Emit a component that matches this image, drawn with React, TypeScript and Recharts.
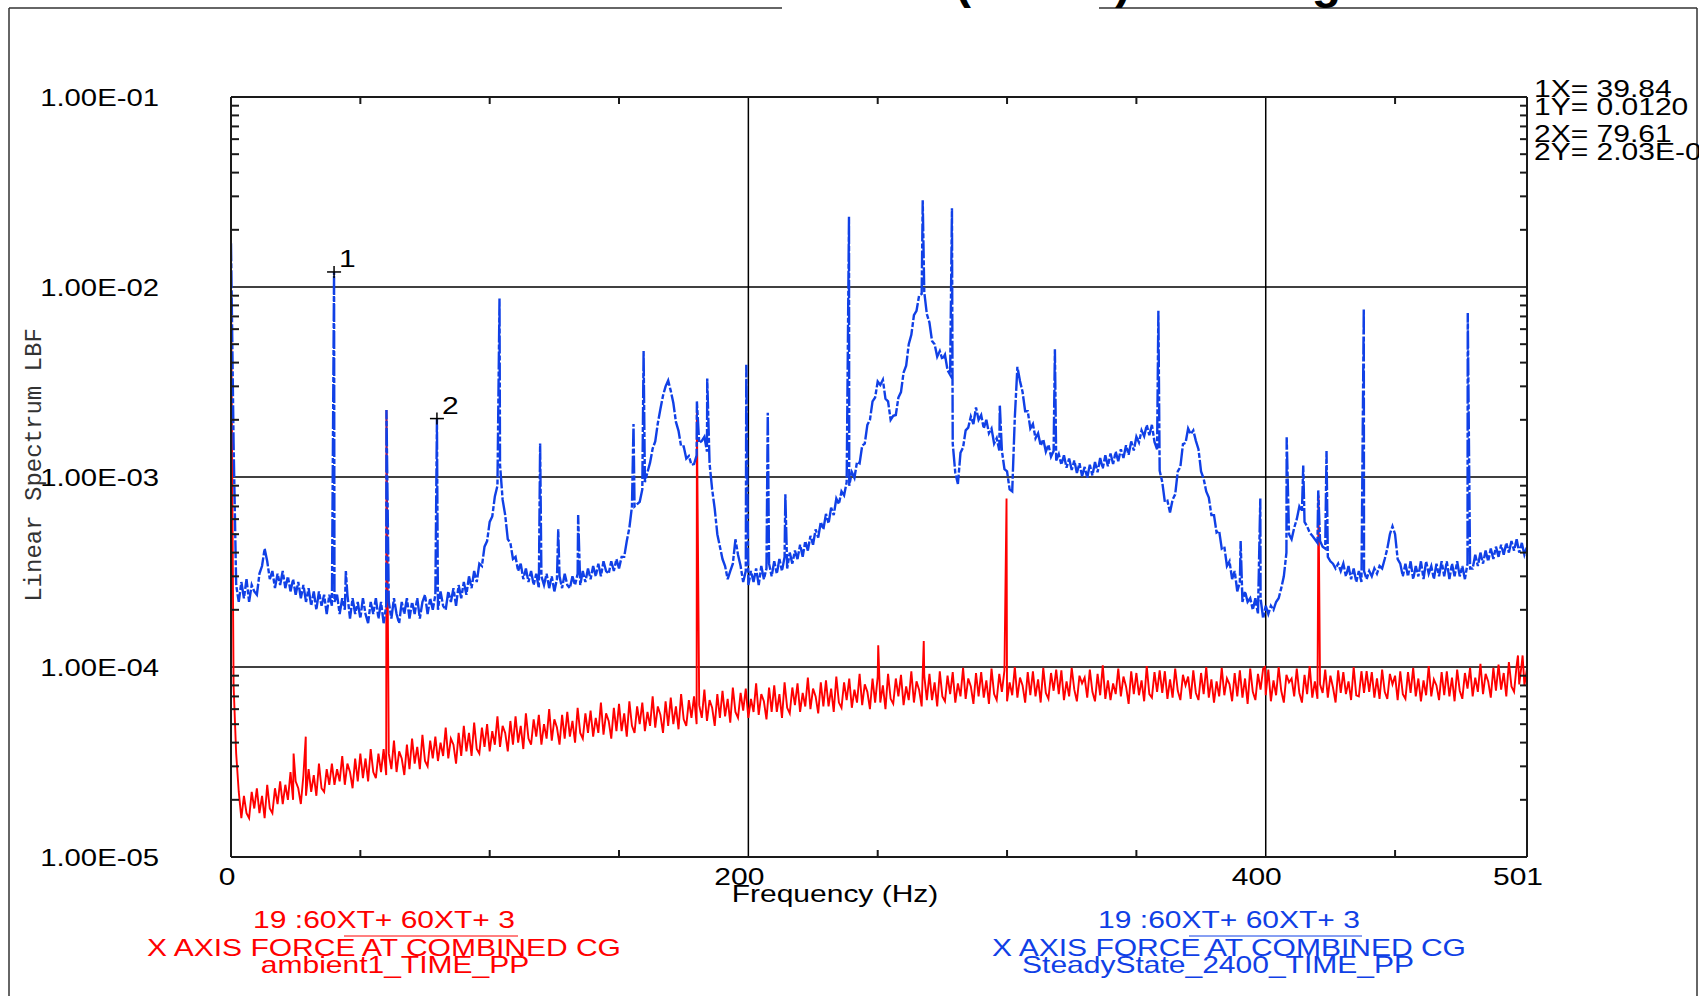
import React from "react";
import { LineChart, Line, XAxis, YAxis, ReferenceLine } from "recharts";

// spectrum bins are 1 Hz apart starting at 0 Hz; values are in 1e-5 LBF
const binHz = 1;
const unit = 1e-5;

// SteadyState_2400_TIME_PP (blue)
const steadyState = [
  1700, 150, 27, 22, 28, 23, 29, 22, 27, 25,
  24, 31, 34, 42, 36, 29, 32, 26, 31, 27,
  32, 26, 30, 25, 29, 24, 28, 23, 27, 22,
  26, 21, 25, 20, 25, 21, 24, 19, 24, 21,
  22, 24, 19, 23, 20, 24, 18, 23, 19, 22,
  18, 23, 19, 17, 22, 19, 23, 18, 22, 17,
  21, 22, 18, 23, 19, 17, 22, 19, 23, 18,
  22, 19, 23, 18, 22, 24, 19, 23, 20, 24,
  20, 25, 21, 20, 25, 22, 26, 21, 27, 23,
  28, 24, 30, 26, 32, 28, 35, 34, 43, 46,
  58, 62, 79, 90, 116, 76, 63, 47, 45, 37,
  38, 32, 35, 29, 33, 28, 32, 27, 31, 26,
  30, 27, 31, 26, 30, 25, 29, 30, 26, 31,
  27, 26, 30, 27, 31, 27, 32, 28, 33, 29,
  34, 30, 35, 30, 36, 32, 31, 36, 32, 37,
  33, 38, 38, 46, 54, 70, 70, 72, 74, 86,
  94, 106, 119, 141, 154, 192, 228, 268, 300, 322,
  284, 245, 195, 175, 145, 145, 125, 129, 116, 117,
  130, 151, 155, 163, 136, 118, 86, 68, 50, 43,
  37, 34, 29, 32, 35, 47, 39, 34, 28, 32,
  27, 32, 28, 33, 27, 34, 29, 33, 35, 30,
  36, 31, 37, 32, 38, 33, 40, 35, 41, 37,
  44, 38, 46, 41, 49, 44, 53, 48, 58, 53,
  64, 57, 69, 63, 77, 72, 84, 80, 94, 90,
  106, 99, 120, 118, 146, 150, 188, 200, 250, 262,
  318, 305, 325, 258, 250, 200, 210, 212, 262, 280,
  355, 385, 500, 560, 710, 750, 900, 920, 940, 720,
  650, 520, 500, 430, 460, 415, 440, 365, 345, 150,
  105, 92, 134, 143, 176, 182, 208, 190, 232, 200,
  212, 180, 200, 170, 180, 150, 160, 138, 138, 110,
  107, 86, 84, 205, 380, 320, 280, 222, 222, 180,
  190, 160, 170, 146, 158, 136, 148, 128, 137, 122,
  132, 116, 130, 112, 125, 109, 122, 105, 118, 101,
  113, 99, 116, 102, 120, 106, 126, 111, 130, 114,
  133, 117, 136, 121, 140, 126, 147, 131, 154, 138,
  163, 152, 176, 164, 188, 166, 188, 153, 140, 108,
  94, 74, 75, 65, 76, 81, 107, 113, 149, 151,
  180, 168, 176, 155, 140, 107, 98, 84, 78, 63,
  63, 51, 52, 42, 43, 34, 36, 29, 32, 25,
  28, 22, 25, 22, 23, 20, 23, 19, 23, 18,
  21, 19, 21, 20, 22, 23, 26, 30, 40, 50,
  47, 54, 60, 70, 66, 58, 55, 51, 49, 47,
  45, 46, 43, 42, 38, 36, 35, 33, 35, 32,
  35, 30, 34, 29, 33, 28, 32, 28, 32, 29,
  32, 30, 33, 31, 34, 33, 37, 42, 50, 55,
  50, 37, 35, 30, 35, 30, 36, 29, 34, 30,
  36, 29, 36, 31, 34, 29, 35, 30, 36, 30,
  36, 29, 35, 30, 36, 30, 34, 29, 35, 33,
  33, 39, 34, 40, 35, 41, 36, 42, 37, 43,
  38, 44, 39, 45, 40, 46, 41, 47, 40, 45,
  39, 43,
];

// narrow tones of the blue trace: [Hz, peak]
const steadySpikes = [
  [39.84, 1200], [44.4, 32], [60.1, 225], [79.61, 203], [103.8, 870],
  [119.5, 150], [126.5, 53], [134.2, 63], [155.6, 190], [159.5, 460],
  [180.1, 250], [184.1, 330], [199.2, 390], [207.5, 218], [214.3, 81],
  [238.9, 2340], [267.4, 2860], [278.7, 2600], [297.2, 240], [318.5, 470],
  [358.5, 750], [390.3, 46], [397.9, 77], [408.1, 162], [414.5, 115],
  [420.3, 85], [423.5, 137], [437.9, 770], [478.1, 730],
];

// ambient1_TIME_PP (red)
const ambient = [
  1000, 8, 3.5, 2.2, 1.6, 2.1, 1.7, 1.6, 2.2, 1.8,
  2.3, 1.7, 2.1, 1.6, 2.4, 1.8, 1.7, 2.3, 1.9, 2.5,
  1.9, 2.4, 2.0, 2.8, 2.0, 2.5, 2.3, 1.9, 2.7, 2.1,
  2.9, 2.2, 2.7, 2.1, 3.1, 2.3, 2.2, 2.9, 2.4, 3.1,
  2.4, 2.9, 2.5, 3.4, 2.4, 3.1, 2.8, 2.3, 3.3, 2.5,
  3.5, 2.6, 3.3, 2.5, 3.7, 2.8, 2.6, 3.5, 2.8, 3.7,
  2.7, 3.5, 2.9, 4.1, 2.8, 3.6, 3.3, 2.7, 3.9, 2.9,
  4.2, 3.1, 3.8, 2.9, 4.4, 3.2, 3.0, 4.1, 3.3, 4.3,
  3.2, 4.0, 3.4, 4.8, 3.3, 4.2, 3.9, 3.1, 4.5, 3.4,
  4.9, 3.6, 4.5, 3.4, 5.1, 3.7, 3.5, 4.8, 3.8, 5.0,
  3.6, 4.6, 3.9, 5.5, 3.8, 4.9, 4.5, 3.6, 5.2, 3.9,
  5.5, 4.0, 4.9, 3.7, 5.7, 4.2, 3.9, 5.3, 4.3, 5.6,
  3.9, 5.0, 4.2, 6.0, 4.1, 5.3, 4.8, 3.9, 5.6, 4.2,
  5.8, 4.3, 5.2, 4.0, 6.1, 4.5, 4.2, 5.7, 4.5, 5.9,
  4.3, 5.4, 4.5, 6.5, 4.4, 5.7, 5.2, 4.2, 6.1, 4.6,
  6.4, 4.6, 5.7, 4.3, 6.6, 4.9, 4.5, 6.2, 5.0, 6.5,
  4.6, 5.8, 4.9, 7.0, 4.8, 6.2, 5.6, 4.5, 6.6, 4.9,
  6.9, 5.0, 6.2, 4.7, 7.2, 5.3, 4.9, 6.7, 5.4, 7.0,
  5.0, 6.3, 5.4, 7.6, 5.2, 6.7, 6.1, 4.9, 7.2, 5.4,
  7.5, 5.5, 6.8, 5.1, 7.8, 5.8, 5.4, 7.3, 5.9, 7.7,
  5.4, 6.8, 5.8, 8.2, 5.6, 7.2, 6.6, 5.3, 7.8, 5.8,
  8.0, 5.8, 7.2, 5.4, 8.3, 6.1, 5.7, 7.8, 6.3, 8.2,
  5.8, 7.3, 6.2, 8.8, 6.0, 7.7, 7.0, 5.7, 8.3, 6.2,
  8.5, 6.2, 7.7, 5.8, 8.9, 6.5, 6.1, 8.3, 6.7, 8.7,
  6.1, 7.6, 6.5, 9.2, 6.3, 8.1, 7.4, 6.0, 8.7, 6.5,
  8.9, 6.5, 8.0, 6.0, 9.2, 6.8, 6.4, 8.7, 7.0, 9.1,
  6.3, 7.9, 6.7, 9.5, 6.5, 8.4, 7.6, 6.2, 9.0, 6.7,
  9.2, 6.7, 8.3, 6.2, 9.5, 7.0, 6.6, 9.0, 7.2, 9.4,
  6.5, 8.2, 7.0, 9.9, 6.8, 8.7, 7.9, 6.4, 9.3, 7.0,
  9.4, 6.9, 8.5, 6.4, 9.8, 7.2, 6.7, 9.2, 7.4, 9.6,
  6.6, 8.3, 7.1, 10.0, 6.9, 8.8, 8.0, 6.5, 9.4, 7.1,
  9.5, 7.0, 8.6, 6.5, 9.9, 7.3, 6.8, 9.3, 7.5, 9.7,
  7.2, 9.6, 6.7, 8.4, 7.0, 9.9, 7.6, 6.6, 9.0, 8.2,
  8.8, 6.9, 9.7, 7.4, 6.6, 9.2, 7.1, 10.2, 6.8, 8.5,
  6.7, 8.2, 7.2, 9.8, 7.0, 8.9, 7.9, 6.4, 9.5, 7.2,
  9.3, 7.1, 8.5, 6.6, 10.1, 7.2, 6.9, 9.4, 7.4, 9.6,
  7.3, 9.5, 6.8, 8.6, 6.9, 9.8, 7.5, 6.7, 9.1, 8.0,
  8.9, 6.8, 9.6, 7.3, 6.7, 9.3, 7.2, 10.0, 6.9, 8.6,
  6.5, 8.4, 7.0, 9.9, 7.1, 8.7, 8.1, 6.6, 9.3, 7.0,
  9.6, 6.9, 8.7, 6.4, 9.8, 7.4, 6.7, 9.2, 7.6, 9.8,
  7.1, 9.7, 6.6, 8.5, 7.1, 10.0, 7.5, 6.5, 9.1, 8.3,
  8.7, 7.0, 9.8, 7.3, 6.5, 9.1, 7.2, 10.1, 6.9, 8.4,
  6.8, 8.1, 7.3, 9.7, 6.9, 9.0, 7.8, 6.5, 9.6, 7.3,
  9.4, 7.2, 8.4, 6.7, 10.0, 7.1, 7.0, 9.5, 7.3, 9.5,
  7.4, 9.4, 6.9, 8.7, 6.8, 9.7, 7.4, 6.8, 9.2, 8.1,
  9.0, 6.7, 9.5, 7.2, 6.8, 9.4, 7.3, 9.9, 7.0, 8.7,
  6.6, 8.5, 7.1, 10.1, 7.0, 8.6, 8.0, 6.7, 9.4, 7.1,
  9.5, 7.0, 8.8, 6.6, 9.7, 7.5, 6.8, 9.3, 7.7, 9.9,
  7.0, 8.8, 7.4, 10.4, 7.2, 9.2, 8.4, 6.9, 9.9, 7.5,
  10.3, 7.6, 9.3, 7.0, 10.6, 7.9, 7.4, 10.2, 8.1, 10.5,
  8.0, 9.8,
];

const ambientSpikes = [
  [24.2, 3.5], [28.9, 4.3], [60.1, 225], [180.1, 220], [250.2, 13],
  [267.8, 13.7], [299.8, 77], [399.7, 10], [420.4, 80], [497.5, 11.5],
  [499.3, 11.5],
];

// cursor readouts
const markerFreq = [39.84, 79.61];
const markerValue = [0.012, 0.00203];

const freqDomain = [0, 501];
const freqLabels = [0, 200, 400, 501];
const freqMinor = [50, 100, 150, 250, 300, 350, 450];
const decadeTicks = [1e-5, 1e-4, 1e-3, 1e-2, 1e-1];
const minorSteps = [2, 3, 4, 5, 6, 7, 8, 9];

const ambientLegend = ["19 :60XT+ 60XT+ 3", "X AXIS FORCE AT COMBINED CG", "ambient1_TIME_PP"];
const steadyLegend = ["19 :60XT+ 60XT+ 3", "X AXIS FORCE AT COMBINED CG", "SteadyState_2400_TIME_PP"];

const BLUE = "#1040e6";
const RED = "#ff0000";
const INK = "#1a1a1a";
const SANS = "'Liberation Sans', Arial, sans-serif";

const minorTicks = decadeTicks.slice(0, -1).flatMap((d) => minorSteps.map((m) => d * m));
const yTicks = [...decadeTicks, ...minorTicks].sort((a, b) => a - b);
const xTicks = [...freqLabels, ...freqMinor].sort((a, b) => a - b);

function toPoints(values: number[], spikes: number[][]) {
  const pts = values.map((v, i) => ({ f: i * binHz, v: v * unit }));
  spikes.forEach(([f, v]) => pts.push({ f, v: v * unit }));
  return pts.sort((a, b) => a.f - b.f);
}

const steadyData = toPoints(steadyState, steadySpikes);
const ambientData = toPoints(ambient, ambientSpikes);
const markerData = markerFreq.map((f, i) => ({ f, v: markerValue[i] }));

function sci(v: number) {
  const [m, e] = v.toExponential(2).split("e");
  const n = Number(e);
  return `${m}E${n < 0 ? "-" : "+"}${String(Math.abs(n)).padStart(2, "0")}`;
}

function readout(v: number) {
  return v >= 0.01 ? v.toFixed(4) : sci(v);
}

// the plotter's font is Arial drawn about 25% wider than normal
function StretchText({ x, y, children, anchor = "middle", size = 24, sx = 1.25, color = "#000" }: any) {
  return (
    <text
      transform={`translate(${x},${y}) scale(${sx},1)`}
      textAnchor={anchor}
      fontSize={size}
      fill={color}
      fontFamily={SANS}
    >
      {children}
    </text>
  );
}

function LeftTick(props: any) {
  const { x, y, payload } = props;
  if (decadeTicks.includes(payload.value)) {
    return (
      <StretchText x={x - 72} y={y + 9} anchor="end" size={24} sx={1.22}>
        {sci(payload.value)}
      </StretchText>
    );
  }
  return <line x1={x} x2={x + 8} y1={y} y2={y} stroke={INK} strokeWidth={2} />;
}

function RightTick(props: any) {
  const { x, y, payload } = props;
  if (decadeTicks.includes(payload.value)) return <g />;
  return <line x1={x - 7} x2={x} y1={y} y2={y} stroke={INK} strokeWidth={2} />;
}

function BottomTick(props: any) {
  const { x, y, payload } = props;
  const v = payload.value;
  if (freqLabels.includes(v)) {
    return (
      <StretchText x={x + (v === 0 ? -4 : -9)} y={y + 28}>
        {String(v)}
      </StretchText>
    );
  }
  return <line x1={x} x2={x} y1={y - 7} y2={y} stroke={INK} strokeWidth={2} />;
}

function TopTick(props: any) {
  const { x, y, payload } = props;
  if (freqLabels.includes(payload.value)) return <g />;
  return <line x1={x} x2={x} y1={y} y2={y + 7} stroke={INK} strokeWidth={2} />;
}

function MarkerDot(props: any) {
  const { cx, cy, index } = props;
  return (
    <g key={`m${index}`}>
      <line x1={cx - 7} x2={cx + 7} y1={cy} y2={cy} stroke="#000" strokeWidth={1.5} />
      <line x1={cx} x2={cx} y1={cy - 6} y2={cy + 6} stroke="#000" strokeWidth={1.5} />
      <StretchText x={cx + 5} y={cy - 5} anchor="start">
        {String(index + 1)}
      </StretchText>
    </g>
  );
}

const axisLine = { stroke: INK, strokeWidth: 2 };

export default function App() {
  return (
    <div style={{ position: "absolute", left: 0, top: 0, width: 1699, height: 996, background: "#fff" }}>
      <LineChart width={1699} height={996} margin={{ top: 77, right: 162, bottom: 99, left: 111 }}>
        <XAxis
          dataKey="f"
          type="number"
          domain={freqDomain}
          allowDataOverflow
          ticks={xTicks}
          interval={0}
          tick={<BottomTick />}
          tickLine={false}
          tickSize={0}
          tickMargin={0}
          axisLine={axisLine}
          height={40}
        />
        <XAxis
          xAxisId="top"
          orientation="top"
          dataKey="f"
          type="number"
          domain={freqDomain}
          allowDataOverflow
          ticks={xTicks}
          interval={0}
          tick={<TopTick />}
          tickLine={false}
          tickSize={0}
          tickMargin={0}
          axisLine={axisLine}
          height={20}
        />
        <YAxis
          type="number"
          scale="log"
          domain={[decadeTicks[0], decadeTicks[decadeTicks.length - 1]]}
          allowDataOverflow
          ticks={yTicks}
          interval={0}
          tick={<LeftTick />}
          tickLine={false}
          tickSize={0}
          tickMargin={0}
          axisLine={axisLine}
          width={120}
        />
        <YAxis
          yAxisId="right"
          orientation="right"
          type="number"
          scale="log"
          domain={[decadeTicks[0], decadeTicks[decadeTicks.length - 1]]}
          allowDataOverflow
          ticks={yTicks}
          interval={0}
          tick={<RightTick />}
          tickLine={false}
          tickSize={0}
          tickMargin={0}
          axisLine={axisLine}
          width={10}
        />
        {decadeTicks.slice(1, -1).map((d) => (
          <ReferenceLine key={`h${d}`} y={d} stroke="#000" strokeWidth={1.5} />
        ))}
        {freqLabels.slice(1, -1).map((f) => (
          <ReferenceLine key={`v${f}`} x={f} stroke="#000" strokeWidth={1.5} />
        ))}
        <Line
          data={ambientData}
          dataKey="v"
          xAxisId="top"
          yAxisId="right"
          type="linear"
          stroke={RED}
          strokeWidth={1.9}
          dot={false}
          isAnimationActive={false}
        />
        <Line
          data={steadyData}
          dataKey="v"
          type="linear"
          stroke={BLUE}
          strokeWidth={2.4}
          strokeDasharray="18 2 5 2"
          dot={false}
          isAnimationActive={false}
        />
        <Line
          data={markerData}
          dataKey="v"
          type="linear"
          stroke="none"
          dot={(p: any) => <MarkerDot {...p} />}
          activeDot={false}
          isAnimationActive={false}
        />
      </LineChart>

      <svg
        width={1699}
        height={996}
        style={{ position: "absolute", left: 0, top: 0, pointerEvents: "none" }}
      >
        {/* page frame, broken where the title sits */}
        <g stroke="#333" strokeWidth={1.5}>
          <line x1={9} x2={9} y1={8} y2={996} />
          <line x1={9} x2={782} y1={8} y2={8} />
          <line x1={1099} x2={1697} y1={8} y2={8} />
          <line x1={1697} x2={1697} y1={8} y2={996} />
        </g>
        <text y={-2} fontSize={48} fontWeight="bold" fontFamily={SANS} fill="#000">
          <tspan x={955}>(Linear)</tspan>
          <tspan x={1180}>Average</tspan>
        </text>

        <text
          transform="translate(41,465) rotate(-90)"
          textAnchor="middle"
          fontSize={24}
          fontFamily="'Liberation Mono', 'Courier New', monospace"
          fill="#333"
        >
          Linear Spectrum LBF
        </text>

        <StretchText x={835} y={902}>Frequency (Hz)</StretchText>

        {markerFreq.map((f, i) => (
          <g key={`r${i}`}>
            <StretchText x={1534} y={97 + i * 45} anchor="start">{`${i + 1}X= ${f.toFixed(2)}`}</StretchText>
            <StretchText x={1534} y={115 + i * 45} anchor="start">{`${i + 1}Y= ${readout(markerValue[i])}`}</StretchText>
          </g>
        ))}

        {ambientLegend.map((t, i) => (
          <StretchText key={`a${i}`} x={i === 2 ? 395 : 384} y={[928, 956, 973][i]} color={RED}>
            {t}
          </StretchText>
        ))}
        <line x1={344} x2={518} y1={936} y2={936} stroke={RED} strokeWidth={1} />

        {steadyLegend.map((t, i) => (
          <StretchText key={`s${i}`} x={i === 2 ? 1218 : 1229} y={[928, 956, 973][i]} color={BLUE}>
            {t}
          </StretchText>
        ))}
        <line x1={1189} x2={1362} y1={936} y2={936} stroke={BLUE} strokeWidth={1} />
      </svg>
    </div>
  );
}
